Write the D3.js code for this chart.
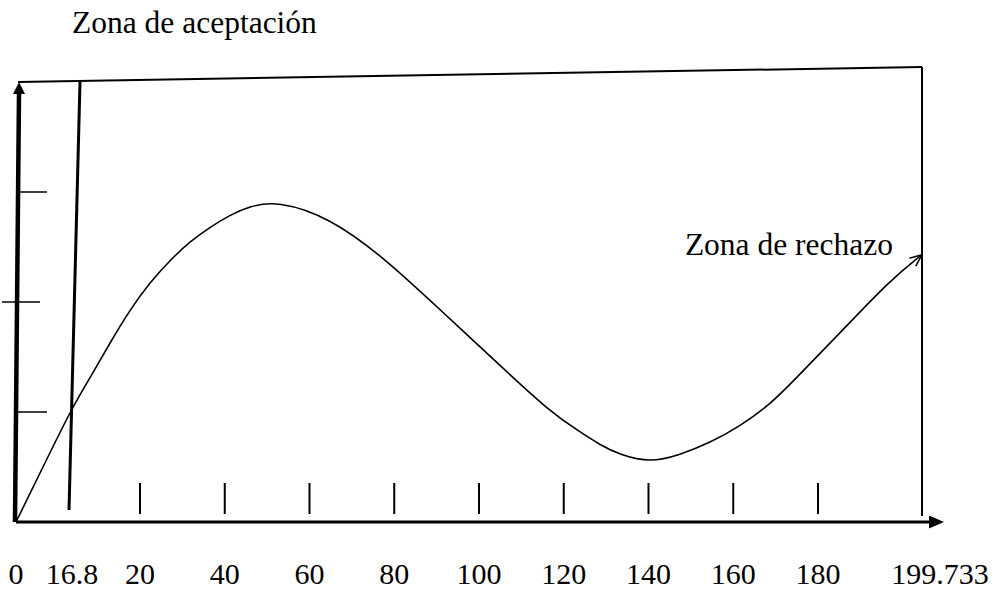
<!DOCTYPE html>
<html>
<head>
<meta charset="utf-8">
<script src="https://cdn.jsdelivr.net/npm/d3@7"></script>
<style>
  body { margin: 0; background: #fff; }
  text { font-family: "Liberation Serif", "Times New Roman", serif; fill: #000; }
</style>
</head>
<body>
<div id="chart"></div>
<script>
// values
var tickValues = [20, 40, 60, 80, 100, 120, 140, 160, 180];
var labelValues = [0, 16.8, 20, 40, 60, 80, 100, 120, 140, 160, 180, 199.733];
var criticalValue = 16.8;
var maxValue = 199.733;
var yTickValues = [1, 2, 3];
var curveX = [0, 8.1, 16.8, 17.74, 18.59, 19.53, 22.4, 27.1, 31.8, 36.5, 41.2, 45.9, 52.3, 64.8, 78.3, 90.8, 104.2, 116.8, 123.8, 128.6, 133.3, 140.4, 147.4, 154.5, 161.6, 168.7, 173.4, 184.2, 193.7, 199.733];
var curveY = [0, 0.5, 1.04, 1.34, 1.63, 1.93, 2.18, 2.38, 2.55, 2.68, 2.79, 2.87, 2.92, 2.77, 2.38, 1.93, 1.45, 1.0, 0.82, 0.70, 0.61, 0.54, 0.61, 0.72, 0.87, 1.07, 1.25, 1.72, 2.2, 2.43];
var acceptLabel = "Zona de aceptación";
var rejectLabel = "Zona de rechazo";

var drawChart = function(){
  var width = 998, height = 591;

  var svg = d3.select('#chart')
    .append('svg')
    .attr("width", width)
    .attr("height", height);

  // the sketch is not to scale, so the axis is piecewise
  var x = d3.scaleLinear()
    .domain([0, criticalValue, 20, 180, maxValue])
    .range([16, 72, 140, 818, 922]);

  var y = d3.scaleLinear()
    .domain([0, 4])
    .range([522, 82]);

  var defs = svg.append("defs");
  defs.append("marker")
    .attr("id", "arrowY")
    .attr("markerUnits", "userSpaceOnUse")
    .attr("viewBox", "0 0 12 12")
    .attr("refX", 1).attr("refY", 6)
    .attr("markerWidth", 12).attr("markerHeight", 12)
    .attr("orient", "auto")
    .append("path").attr("d", "M0,0 L12,6 L0,12 Z").attr("fill", "#000");
  defs.append("marker")
    .attr("id", "arrowX")
    .attr("markerUnits", "userSpaceOnUse")
    .attr("viewBox", "0 0 15 13")
    .attr("refX", 1).attr("refY", 6.5)
    .attr("markerWidth", 15).attr("markerHeight", 13)
    .attr("orient", "auto")
    .append("path").attr("d", "M0,0 L15,6.5 L0,13 Z").attr("fill", "#000");
  defs.append("marker")
    .attr("id", "arrowOpen")
    .attr("markerUnits", "userSpaceOnUse")
    .attr("viewBox", "0 0 14 12")
    .attr("refX", 13).attr("refY", 6)
    .attr("markerWidth", 14).attr("markerHeight", 12)
    .attr("orient", "auto")
    .append("path").attr("d", "M1,1 L13,6 L1,11")
    .attr("fill", "none").attr("stroke", "#000").attr("stroke-width", 1.5);

  // frame: top edge and right edge
  svg.append("line")
    .attr("x1", x(0) + 2).attr("y1", y(4))
    .attr("x2", x(maxValue)).attr("y2", y(4) - 15)
    .attr("stroke", "#000").attr("stroke-width", 2);
  svg.append("line")
    .attr("x1", x(maxValue)).attr("y1", y(4) - 15)
    .attr("x2", x(maxValue)).attr("y2", y(0) - 6)
    .attr("stroke", "#000").attr("stroke-width", 2);

  // x axis
  svg.append("line")
    .attr("x1", x(0)).attr("y1", y(0))
    .attr("x2", 930).attr("y2", y(0))
    .attr("stroke", "#000").attr("stroke-width", 3)
    .attr("marker-end", "url(#arrowX)");

  // y axis (thick)
  svg.append("line")
    .attr("x1", x(0) - 1).attr("y1", y(0))
    .attr("x2", x(0) + 3).attr("y2", y(4) + 11)
    .attr("stroke", "#000").attr("stroke-width", 4.5)
    .attr("marker-end", "url(#arrowY)");

  // y ticks
  svg.selectAll(".ytick")
    .data(yTickValues)
    .enter().append("line")
    .attr("class", "ytick")
    .attr("x1", function(d){ return d == 2 ? x(0) - 14 : x(0) + 2; })
    .attr("x2", function(d){ return d == 2 ? x(0) + 24 : x(0) + 31; })
    .attr("y1", function(d){ return y(d); })
    .attr("y2", function(d){ return y(d); })
    .attr("stroke", "#000").attr("stroke-width", 1.5);

  // floating x ticks
  svg.selectAll(".xtick")
    .data(tickValues)
    .enter().append("line")
    .attr("class", "xtick")
    .attr("x1", function(d){ return x(d); })
    .attr("x2", function(d){ return x(d); })
    .attr("y1", y(0) - 39)
    .attr("y2", y(0) - 8)
    .attr("stroke", "#000").attr("stroke-width", 2);

  // critical value line
  svg.append("line")
    .attr("x1", x(criticalValue) + 8).attr("y1", y(4))
    .attr("x2", x(criticalValue) - 3).attr("y2", y(0) - 12)
    .attr("stroke", "#000").attr("stroke-width", 3);

  // curve (basis smooths out reading noise)
  var points = curveX.map(function(d, i){ return [d, curveY[i]]; });
  var line = d3.line()
    .x(function(d){ return x(d[0]); })
    .y(function(d){ return y(d[1]); })
    .curve(d3.curveBasis);
  svg.append("path")
    .datum(points)
    .attr("d", line)
    .attr("fill", "none")
    .attr("stroke", "#000")
    .attr("stroke-width", 1.6)
    .attr("marker-end", "url(#arrowOpen)");

  // tick labels
  svg.selectAll(".xlabel")
    .data(labelValues)
    .enter().append("text")
    .attr("class", "xlabel")
    .attr("x", function(d){ return x(d); })
    .attr("dx", function(d){ return d == maxValue ? 18 : 0; })
    .attr("y", 584)
    .attr("text-anchor", "middle")
    .attr("font-size", 30)
    .text(function(d){ return d; });

  // zone labels
  svg.append("text")
    .attr("x", 72).attr("y", 33)
    .attr("font-size", 31.5)
    .text(acceptLabel);
  svg.append("text")
    .attr("x", 893).attr("y", 255)
    .attr("text-anchor", "end")
    .attr("font-size", 31.5)
    .text(rejectLabel);
}

drawChart();
</script>
</body>
</html>
